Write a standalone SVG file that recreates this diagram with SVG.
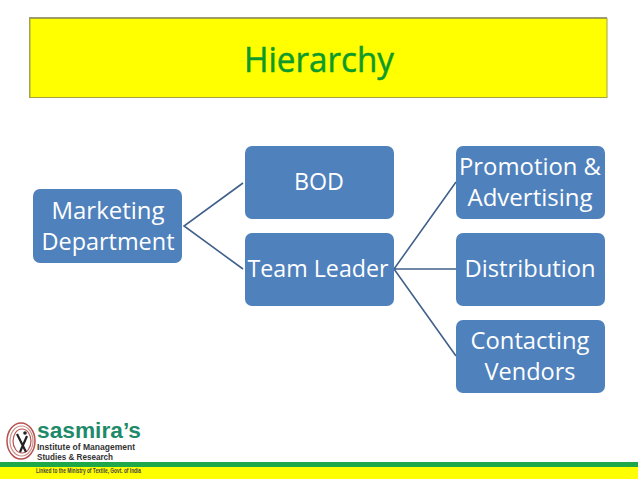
<svg xmlns="http://www.w3.org/2000/svg" width="638" height="479" viewBox="0 0 638 479">
<style>
.n{fill:#4f81bd}
.t{font-family:"Open Sans","Noto Sans",sans-serif;font-size:24px;fill:#fff;text-anchor:middle}
.c{stroke:#41618c;stroke-width:1.6;fill:none}
.l{font-family:"Liberation Sans",Arial,sans-serif;font-weight:700}
.r{fill:none}
</style>
<rect width="638" height="479" fill="#fff"/>
<g id="title">
<rect x="29" y="17" width="578" height="81" fill="#9a9a80"/>
<rect x="30" y="18.500" width="577" height="79" fill="#ffff00" stroke="#a3a33c" stroke-width="1"/>
<text x="319" y="72" font-family="Open Sans,Noto Sans,sans-serif" font-size="35" fill="#0e9a2a" stroke="#0e9a2a" stroke-width="0.500" text-anchor="middle" textLength="150" lengthAdjust="spacingAndGlyphs">Hierarchy</text>
</g>
<g id="connectors">
<path class="c" d="M243 183L184 226L243 269"/>
<path class="c" d="M456 182L394 269L456 356M394 269H456"/>
</g>
<g id="marketing"><rect class="n" x="33" y="189" width="149" height="74" rx="7"/><text class="t" x="108" y="219" textLength="113" lengthAdjust="spacingAndGlyphs">Marketing</text><text class="t" x="108" y="250" textLength="133" lengthAdjust="spacingAndGlyphs">Department</text></g>
<g id="bod"><rect class="n" x="245" y="146" width="149" height="73" rx="7"/><text class="t" x="319" y="190" textLength="50" lengthAdjust="spacingAndGlyphs">BOD</text></g>
<g id="team"><rect class="n" x="245" y="233" width="149" height="73" rx="7"/><text class="t" x="318" y="277" textLength="141" lengthAdjust="spacingAndGlyphs">Team Leader</text></g>
<g id="promotion"><rect class="n" x="456" y="146" width="149" height="73" rx="7"/><text class="t" x="530" y="175" textLength="142" lengthAdjust="spacingAndGlyphs">Promotion &amp;</text><text class="t" x="530" y="206" textLength="125" lengthAdjust="spacingAndGlyphs">Advertising</text></g>
<g id="distribution"><rect class="n" x="456" y="233" width="149" height="73" rx="7"/><text class="t" x="530" y="277" textLength="131" lengthAdjust="spacingAndGlyphs">Distribution</text></g>
<g id="vendors"><rect class="n" x="456" y="320" width="149" height="73" rx="7"/><text class="t" x="530" y="349" textLength="119" lengthAdjust="spacingAndGlyphs">Contacting</text><text class="t" x="530" y="380" textLength="91" lengthAdjust="spacingAndGlyphs">Vendors</text></g>
<rect x="0" y="462" width="638" height="5" fill="#1fa84a"/>
<rect x="0" y="467" width="638" height="12" fill="#ffff00"/>
<g id="logo">
<ellipse class="r" cx="21" cy="441" rx="14" ry="18" stroke="#b5524f" stroke-width="1.500"/>
<ellipse class="r" cx="21.500" cy="441" rx="11.500" ry="15" stroke="#c9908c" stroke-width="1.200"/>
<ellipse class="r" cx="22" cy="441" rx="9" ry="12" stroke="#b5524f" stroke-width="1.200"/>
<path d="M17 434L26 452M27 436L20 452" stroke="#222" stroke-width="2.200" fill="none"/>
<circle cx="25" cy="433" r="1.800" fill="#222"/>
<text class="l" x="37" y="438" font-size="22" fill="#1f8a6a" textLength="104" lengthAdjust="spacingAndGlyphs">sasmira’s</text>
<text class="l" x="37" y="450" font-size="8.500" fill="#333" textLength="98" lengthAdjust="spacingAndGlyphs">Institute of Management</text>
<text class="l" x="37" y="460" font-size="8.500" fill="#333" textLength="76" lengthAdjust="spacingAndGlyphs">Studies &amp; Research</text>
<text class="l" x="36" y="473" font-size="6.500" fill="#444" textLength="105" lengthAdjust="spacingAndGlyphs">Linked to the Ministry of Textile, Govt. of India</text>
</g>
</svg>
